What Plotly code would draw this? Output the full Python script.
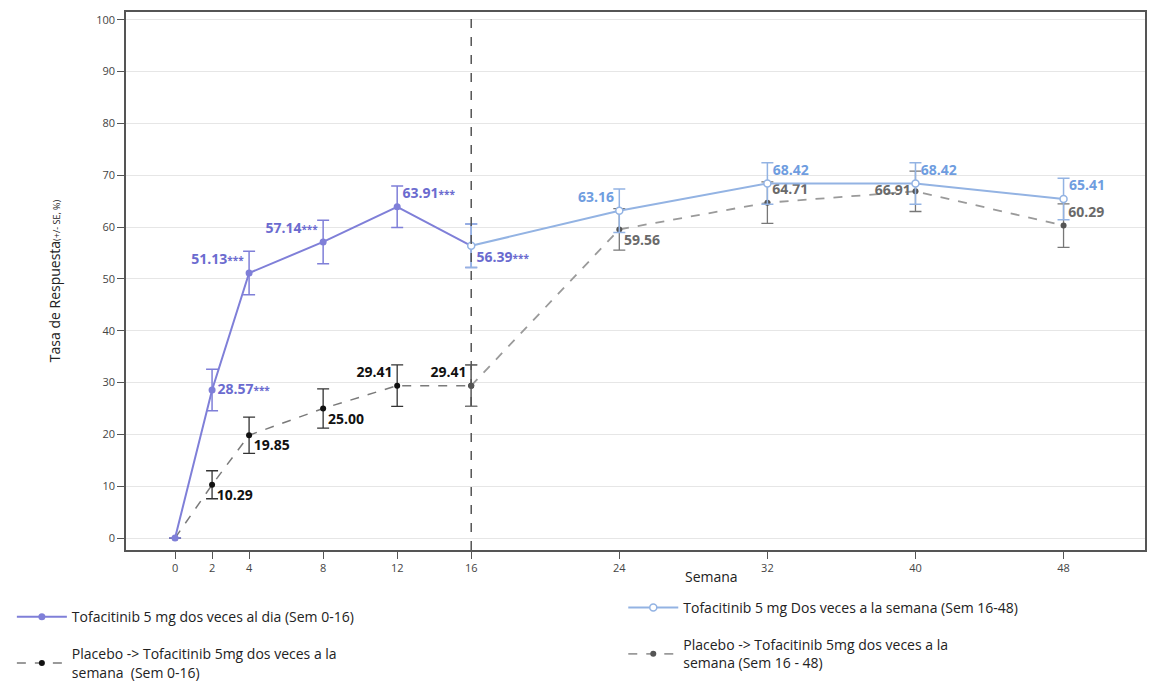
import plotly.graph_objects as go

# ---- data ----
weeks_a = [0, 2, 4, 8, 12, 16]
bid_vals = [0, 28.57, 51.13, 57.14, 63.91, 56.39]
bid_se = [0, 4.0, 4.2, 4.2, 4.0, 4.2]

pla_a_vals = [0, 10.29, 19.85, 25.00, 29.41, 29.41]
pla_a_se = [0, 2.7, 3.5, 3.8, 4.0, 4.0]

weeks_b = [16, 24, 32, 40, 48]
biw_vals = [56.39, 63.16, 68.42, 68.42, 65.41]
biw_se = [4.2, 4.2, 4.0, 4.0, 4.0]

pla_b_vals = [29.41, 59.56, 64.71, 66.91, 60.29]
pla_b_se = [4.0, 4.0, 4.0, 3.9, 4.2]

x_ticks = [0, 2, 4, 8, 12, 16, 24, 32, 40, 48]
y_ticks = list(range(0, 101, 10))

names = [
    "Tofacitinib 5 mg dos veces al dia (Sem 0-16)",
    "Tofacitinib 5 mg Dos veces a la semana (Sem 16-48)",
    "Placebo -> Tofacitinib 5mg dos veces a la<br>semana  (Sem 0-16)",
    "Placebo -> Tofacitinib 5mg dos veces a la<br>semana (Sem 16 - 48)",
]

PURPLE = "#7f7fd8"
PURPLE_T = "#6b6bcf"
BLUE = "#93b3e3"
BLUE_T = "#6f9ddf"
BLACK = "#111111"
GRAY = "#6a6a6a"
FONT = "Open Sans"

bid_text = [""] + [f"{v:.2f}<span style='font-size:10px'>***</span>" for v in bid_vals[1:]]
bid_pos = ["middle right", "middle right", "top left", "top left", "top right", "bottom right"]

pla_a_text = [""] + [f"{v:.2f}" for v in pla_a_vals[1:]]
pla_a_pos = ["middle right", "bottom right", "bottom right", "bottom right", "top left", "top left"]

biw_text = [""] + [f"{v:.2f}" for v in biw_vals[1:]]
biw_pos = ["middle right", "top left", "top right", "top right", "top right"]

pla_b_text = [""] + [f"{v:.2f}" for v in pla_b_vals[1:]]
pla_b_pos = ["middle right", "bottom right", "top right", "middle left", "top right"]

fig = go.Figure()

# Placebo 0-16
fig.add_trace(go.Scatter(
    x=weeks_a, y=pla_a_vals, name=names[2], mode="lines+markers+text",
    line=dict(color="#7a7a7a", width=1.5, dash="dash"),
    marker=dict(color=BLACK, size=6),
    error_y=dict(type="data", array=pla_a_se, color="#333333", thickness=1.3, width=6),
    text=pla_a_text, textposition=pla_a_pos,
    textfont=dict(color=BLACK, size=14, family=FONT),
    legend="legend", legendgroup="pa", legendrank=2,
))
# Placebo 16-48
fig.add_trace(go.Scatter(
    x=weeks_b, y=pla_b_vals, name=names[3], mode="lines+markers+text",
    line=dict(color="#9a9a9a", width=1.8, dash="dash"),
    marker=dict(color="#555555", size=6),
    error_y=dict(type="data", array=pla_b_se, color="#777777", thickness=1.3, width=6),
    text=pla_b_text, textposition=pla_b_pos,
    textfont=dict(color=GRAY, size=14, family=FONT),
    legend="legend2", legendgroup="pb", legendrank=2,
))
# BID
fig.add_trace(go.Scatter(
    x=weeks_a, y=bid_vals, name=names[0], mode="lines+markers+text",
    line=dict(color=PURPLE, width=2),
    marker=dict(color=PURPLE, size=7),
    error_y=dict(type="data", array=bid_se, color=PURPLE, thickness=1.5, width=6),
    text=bid_text, textposition=bid_pos,
    textfont=dict(color=PURPLE_T, size=14, family=FONT),
    legend="legend", legendgroup="bid", legendrank=1,
))
# BIW
fig.add_trace(go.Scatter(
    x=weeks_b, y=biw_vals, name=names[1], mode="lines+markers+text",
    line=dict(color=BLUE, width=2),
    marker=dict(color="white", size=7, line=dict(color=BLUE, width=1.5)),
    error_y=dict(type="data", array=biw_se, color=BLUE, thickness=1.5, width=6),
    text=biw_text, textposition=biw_pos,
    textfont=dict(color=BLUE_T, size=14, family=FONT),
    legend="legend2", legendgroup="biw", legendrank=1,
))

fig.update_traces(texttemplate="<b>%{text}</b>")

fig.add_shape(type="line", x0=16, x1=16, xref="x", y0=0, y1=1, yref="paper",
              line=dict(color="#555555", width=1.5, dash="dash"))

fig.add_annotation(text="Semana", x=0.575, y=-0.07, xref="paper", yref="paper",
                   showarrow=False, font=dict(size=14, color="#222222", family=FONT))

fig.update_xaxes(
    range=[-2.65, 52.4], tickvals=x_ticks, ticktext=[str(t) for t in x_ticks],
    showgrid=False, zeroline=False,
    showline=True, mirror=True, linecolor="#555555", linewidth=1.5,
    ticks="outside", ticklen=7, tickcolor="#555555",
    tickfont=dict(size=11, color="#444444", family=FONT),
)
fig.update_yaxes(
    range=[-2.3, 101.5], tickvals=y_ticks,
    showgrid=True, gridcolor="#e6e6e6", gridwidth=1, zeroline=False,
    showline=True, mirror=True, linecolor="#555555", linewidth=1.5,
    ticks="outside", ticklen=7, tickcolor="#555555",
    tickfont=dict(size=11, color="#444444", family=FONT),
    title=dict(text="Tasa de Respuesta<span style='font-size:9px'>(+/- SE, %)</span>",
               font=dict(size=14, color="#222222", family=FONT), standoff=32),
)

legend_common = dict(
    orientation="v", xanchor="left", yanchor="top",
    font=dict(size=14, color="#222222", family=FONT),
    traceorder="grouped", tracegroupgap=16, itemwidth=50,
    bgcolor="rgba(0,0,0,0)",
)

fig.update_layout(
    width=1175, height=692,
    margin=dict(l=126, r=30, t=12, b=142, autoexpand=False),
    paper_bgcolor="white", plot_bgcolor="white",
    showlegend=True,
    legend=dict(x=-0.112, y=-0.095, **legend_common),
    legend2=dict(x=0.488, y=-0.078, **legend_common),
)

fig.write_html("out.html")
